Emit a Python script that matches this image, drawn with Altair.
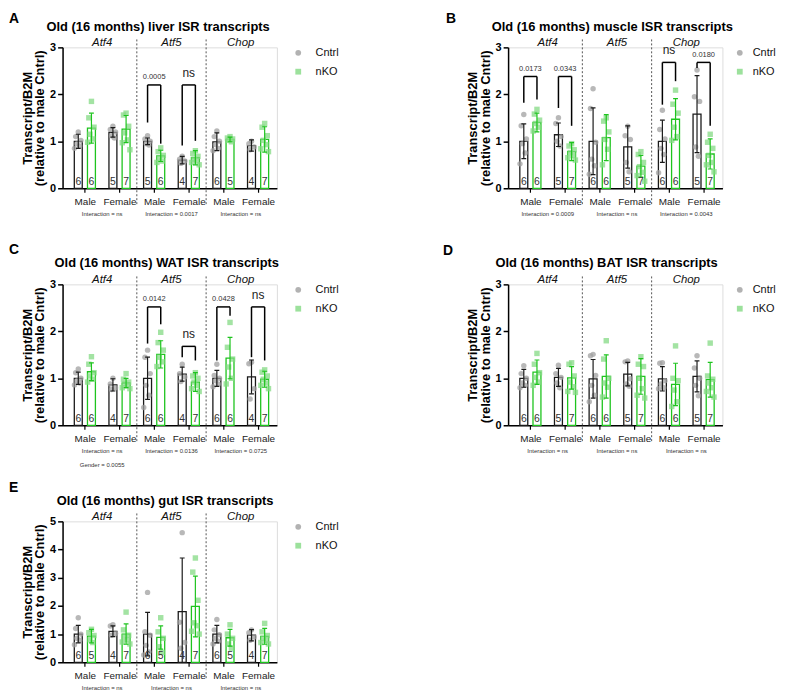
import altair as alt
import pandas as pd

GENES = ["Atf4", "Atf5", "Chop"]
SEXES = ["Male", "Female"]
GENOS = ["Cntrl", "nKO"]
# order of groups: gene -> sex -> genotype (Cntrl, nKO)

# ---------------- A: liver ----------------
liver_mean = [1.00, 1.28, 1.19, 1.26, 1.00, 0.69, 0.60, 0.65, 0.99, 1.04, 0.91, 1.04]
liver_sd = [0.15, 0.32, 0.10, 0.29, 0.07, 0.12, 0.08, 0.15, 0.19, 0.05, 0.12, 0.27]
liver_n = [6, 6, 5, 7, 5, 6, 4, 7, 6, 5, 4, 7]
liver_pts = [
    [1.20, 1.10, 1.02, 0.95, 0.90, 0.85],
    [1.85, 1.50, 1.30, 1.15, 1.05, 0.98],
    [1.32, 1.25, 1.20, 1.12, 1.07],
    [1.60, 1.56, 1.32, 1.18, 1.03, 0.97, 0.82],
    [1.12, 1.05, 1.00, 0.95, 0.92],
    [0.86, 0.78, 0.70, 0.64, 0.58, 0.55],
    [0.68, 0.62, 0.58, 0.53],
    [0.80, 0.74, 0.68, 0.62, 0.58, 0.55, 0.50],
    [1.22, 1.10, 1.00, 0.93, 0.85, 0.80],
    [1.10, 1.07, 1.05, 1.02, 0.99],
    [1.00, 0.95, 0.88, 0.82],
    [1.38, 1.30, 1.12, 1.02, 0.93, 0.84, 0.78],
]
liver_brackets = [("Atf5", "Male", "0.0005", 2.2, 1.40, 0.95),
                  ("Atf5", "Female", "ns", 2.2, 0.91, 1.01)]
liver_stats = ["Interaction = ns", "Interaction = 0.0017", "Interaction = ns"]

# ---------------- B: muscle ----------------
muscle_mean = [1.00, 1.40, 1.14, 0.78, 1.00, 1.08, 0.88, 0.47, 1.00, 1.47, 1.58, 0.73]
muscle_sd = [0.37, 0.20, 0.25, 0.19, 0.71, 0.49, 0.45, 0.23, 0.45, 0.44, 0.82, 0.32]
muscle_n = [6, 6, 5, 7, 6, 6, 5, 7, 6, 6, 5, 7]
muscle_pts = [
    [1.57, 1.33, 1.05, 0.95, 0.75, 0.52],
    [1.68, 1.58, 1.45, 1.38, 1.30, 1.22],
    [1.50, 1.38, 1.10, 1.00, 0.90],
    [0.95, 0.90, 0.82, 0.76, 0.70, 0.65, 0.60],
    [2.12, 1.70, 0.98, 0.62, 0.48, 0.30],
    [1.50, 1.43, 1.20, 1.04, 0.83, 0.50],
    [1.32, 1.12, 1.04, 0.55, 0.35],
    [0.78, 0.72, 0.55, 0.46, 0.34, 0.27, 0.15],
    [1.66, 1.25, 1.05, 0.85, 0.72, 0.33],
    [2.09, 1.79, 1.60, 1.30, 1.10, 1.02],
    [2.52, 1.95, 1.85, 0.88, 0.68],
    [1.15, 0.98, 0.85, 0.70, 0.55, 0.50, 0.35],
]
muscle_brackets = [("Atf4", "Male", "0.0173", 2.38, 1.82, 1.89),
                   ("Atf4", "Female", "0.0343", 2.38, 1.71, 1.33),
                   ("Chop", "Male", "ns", 2.68, 1.78, 2.28),
                   ("Chop", "Female", "0.0180", 2.68, 2.56, 1.33)]
muscle_stats = ["Interaction = 0.0009", "Interaction = ns", "Interaction = 0.0043"]

# ---------------- C: WAT ----------------
wat_mean = [1.00, 1.14, 0.86, 0.90, 1.00, 1.51, 1.09, 0.92, 1.00, 1.43, 1.03, 0.98]
wat_sd = [0.13, 0.19, 0.13, 0.10, 0.45, 0.29, 0.15, 0.20, 0.17, 0.44, 0.36, 0.17]
wat_n = [6, 6, 4, 7, 6, 6, 4, 7, 6, 6, 4, 7]
wat_pts = [
    [1.20, 1.12, 1.00, 0.95, 0.90, 0.86],
    [1.46, 1.30, 1.12, 1.05, 0.98, 0.92],
    [1.00, 0.88, 0.80, 0.76],
    [1.10, 0.98, 0.92, 0.88, 0.84, 0.80, 0.78],
    [1.60, 1.45, 1.10, 0.85, 0.64, 0.38],
    [1.98, 1.76, 1.60, 1.45, 1.35, 1.25],
    [1.30, 1.10, 1.03, 0.93],
    [1.12, 1.05, 1.00, 0.92, 0.85, 0.78, 0.72],
    [1.30, 1.06, 1.00, 0.95, 0.88, 0.82],
    [2.19, 1.66, 1.41, 1.24, 1.00, 0.88],
    [1.34, 1.31, 0.78, 0.56],
    [1.18, 1.13, 1.05, 0.98, 0.90, 0.85, 0.78],
]
wat_brackets = [("Atf5", "Male", "0.0142", 2.52, 1.74, 2.15),
                ("Atf5", "Female", "ns", 1.68, 1.45, 1.38),
                ("Chop", "Male", "0.0428", 2.52, 1.38, 2.33),
                ("Chop", "Female", "ns", 2.52, 1.45, 1.38)]
wat_stats = ["Interaction = ns", "Interaction = 0.0136", "Interaction = 0.0725"]
wat_extra = "Gender = 0.0055"

# ---------------- D: BAT ----------------
bat_mean = [1.00, 1.13, 1.02, 1.01, 0.99, 1.04, 1.09, 1.04, 0.99, 0.87, 1.04, 0.97]
bat_sd = [0.19, 0.26, 0.19, 0.24, 0.41, 0.46, 0.25, 0.38, 0.26, 0.45, 0.33, 0.37]
bat_n = [6, 6, 5, 7, 6, 6, 5, 7, 6, 6, 5, 7]
bat_pts = [
    [1.27, 1.10, 1.00, 0.90, 0.85, 0.80],
    [1.53, 1.30, 1.12, 1.02, 0.92, 0.85],
    [1.28, 1.10, 1.02, 0.90, 0.80],
    [1.33, 1.30, 1.05, 0.92, 0.82, 0.72, 0.70],
    [1.51, 1.48, 1.06, 0.85, 0.64, 0.50],
    [1.80, 1.41, 1.00, 0.90, 0.81, 0.60],
    [1.37, 1.35, 0.99, 0.88, 0.83],
    [1.46, 1.30, 1.25, 1.00, 0.78, 0.64, 0.58],
    [1.33, 1.32, 0.95, 0.88, 0.80, 0.78],
    [1.69, 1.00, 0.95, 0.75, 0.50, 0.40],
    [1.48, 1.22, 1.00, 0.85, 0.63],
    [1.75, 1.05, 0.98, 0.90, 0.80, 0.72, 0.60],
]
bat_brackets = []
bat_stats = ["Interaction = ns", "Interaction = ns", "Interaction = ns"]

# ---------------- E: gut ----------------
gut_mean = [1.00, 0.93, 1.10, 1.00, 1.00, 0.88, 1.80, 1.98, 1.00, 0.87, 0.96, 0.92]
gut_sd = [0.31, 0.24, 0.19, 0.36, 0.77, 0.41, 1.90, 1.08, 0.31, 0.30, 0.20, 0.28]
gut_n = [6, 5, 4, 7, 6, 5, 4, 7, 6, 5, 4, 7]
gut_pts = [
    [1.58, 1.20, 1.00, 0.85, 0.78, 0.62],
    [1.17, 1.05, 0.95, 0.80, 0.70],
    [1.33, 1.29, 1.02, 0.96],
    [1.78, 1.15, 0.96, 0.90, 0.80, 0.72, 0.65],
    [2.48, 1.08, 0.96, 0.60, 0.37, 0.26],
    [1.58, 1.08, 0.85, 0.55, 0.35],
    [4.60, 1.42, 0.70, 0.50],
    [3.70, 3.20, 2.20, 1.40, 1.30, 1.10, 1.00],
    [1.52, 1.15, 0.98, 0.85, 0.75, 0.65],
    [1.33, 1.00, 0.85, 0.65, 0.50],
    [1.15, 1.05, 0.90, 0.78],
    [1.38, 1.08, 0.95, 0.85, 0.78, 0.70, 0.65],
]
gut_brackets = []
gut_stats = ["Interaction = ns", "Interaction = ns", "Interaction = ns"]

# ---------------- layout / style ----------------
W, H = 216, 142
XDOM = [-0.5, 5.4]
OFF = 0.19
CAP = 0.07
JIT = [0.0, -0.075, 0.075, -0.04, 0.04, -0.11, 0.11]
FONT = "Liberation Sans"
LINE_COLORS = {"Cntrl": "#1a1a1a", "nKO": "#1ec41e"}

xscale = alt.Scale(domain=XDOM, nice=False, zero=False)
xaxis = alt.Axis(values=[0, 1, 2, 3, 4, 5],
                 labelExpr="datum.value % 2 == 0 ? 'Male' : 'Female'",
                 title=None, grid=False, tickSize=4, tickWidth=1.2, tickColor="black",
                 domainColor="black", domainWidth=1.5, labelFontSize=10, labelColor="#222",
                 labelPadding=4, labelFlush=False, labelOverlap=False, labelFont=FONT)


def X(f):
    return alt.X(f, type="quantitative", scale=xscale, axis=xaxis)


def make_panel(letter, lxy, title, txy, means, sds, ns, pts, brackets, stats, ymax,
               extra=None, leg_x=232, leg_off=12):
    yscale = alt.Scale(domain=[0, ymax], nice=False, zero=True)
    yaxis = alt.Axis(values=list(range(ymax + 1)), format="d",
                     title=["Transcript/B2M", "(relative to male Cntrl)"],
                     titleFontSize=13, titleFontWeight="bold", titleColor="black",
                     titlePadding=3, titleLineHeight=12.5, titleFont=FONT,
                     labelFontSize=11, labelFontWeight="bold", labelColor="black",
                     labelPadding=2, labelFont=FONT, tickSize=5, tickWidth=1.5,
                     tickColor="black", domainColor="black", domainWidth=1.5, grid=False)

    def Y(f):
        return alt.Y(f, type="quantitative", scale=yscale, axis=yaxis)

    rows, prows = [], []
    k = 0
    for gi, g in enumerate(GENES):
        for si, s in enumerate(SEXES):
            for ki, geno in enumerate(GENOS):
                slot = gi * 2 + si
                bx = slot + (OFF if ki else -OFF)
                m, sd = means[k], sds[k]
                rows.append(dict(x=bx, line=geno, mean=m, lo=m - sd, hi=m + sd,
                                 n=str(ns[k]), cl=bx - CAP, cr=bx + CAP))
                for j, v in enumerate(pts[k]):
                    prows.append(dict(x=bx + JIT[j % len(JIT)], v=v, geno=geno))
                k += 1
    bars = pd.DataFrame(rows)
    pdf = pd.DataFrame(prows)

    leg = alt.Legend(orient="none", legendX=leg_x, legendY=0, padding=0, title=None, labelFontSize=11,
                     labelFont=FONT, labelColor="#111", symbolSize=34, labelOffset=leg_off,
                     rowPadding=6, symbolOpacity=0.8)

    layers = []
    div = pd.DataFrame({"dx": [1.5, 3.5]})
    layers.append(alt.Chart(div).mark_rule(strokeDash=[2, 2], color="#555", strokeWidth=1).encode(
        x=X("dx"), y=alt.value(-8), y2=alt.value(H + 17)))
    for geno in GENOS:
        sub = bars[bars["line"] == geno]
        layers.append(alt.Chart(sub).mark_bar(size=8, fill="white", stroke=LINE_COLORS[geno],
                                              strokeWidth=1.3, orient="vertical").encode(
            x=X("x"), y=Y("mean")))
    layers.append(alt.Chart(pdf).mark_point(filled=True, size=30, opacity=0.75).encode(
        x=X("x"), y=Y("v"),
        color=alt.Color("geno:N", scale=alt.Scale(domain=GENOS, range=["#a0a0a0", "#84da84"]), legend=leg),
        shape=alt.Shape("geno:N", scale=alt.Scale(domain=GENOS, range=["circle", "square"]), legend=leg)))
    for geno in GENOS:
        sub = bars[bars["line"] == geno]
        c = LINE_COLORS[geno]
        layers.append(alt.Chart(sub).mark_rule(strokeWidth=1.2, clip=True, color=c).encode(
            x=X("x"), y=Y("lo"), y2=alt.Y2("hi")))
        layers.append(alt.Chart(sub).mark_rule(strokeWidth=1.2, clip=True, color=c).encode(
            x=X("cl"), x2=alt.X2("cr"), y=Y("hi")))
        layers.append(alt.Chart(sub).mark_rule(strokeWidth=1.2, clip=True, color=c).encode(
            x=X("cl"), x2=alt.X2("cr"), y=Y("lo")))
    layers.append(alt.Chart(bars).mark_text(fontSize=10.5, baseline="alphabetic", dy=-3,
                                            color="#333", font=FONT).encode(
        x=X("x"), y=alt.value(H), text="n:N"))

    if brackets:
        segs, labs = [], []
        for g, s, lab, top, lb, rb in brackets:
            slot = GENES.index(g) * 2 + SEXES.index(s)
            xl, xr = slot - OFF, slot + OFF
            segs += [dict(x=xl, x2=xr, y=top, y2=top),
                     dict(x=xl, x2=xl, y=top, y2=lb),
                     dict(x=xr, x2=xr, y=top, y2=rb)]
            labs.append(dict(xm=slot, top=top, label=lab, ns=(lab == "ns")))
        sdf = pd.DataFrame(segs)
        ldf = pd.DataFrame(labs)
        layers.append(alt.Chart(sdf).mark_rule(strokeWidth=1.5, color="black").encode(
            x=X("x"), x2=alt.X2("x2"), y=Y("y"), y2=alt.Y2("y2")))
        pl = ldf[~ldf["ns"]]
        nl = ldf[ldf["ns"]]
        if len(pl):
            layers.append(alt.Chart(pl).mark_text(fontSize=7.5, baseline="alphabetic", dy=-5.5,
                                                  color="#333", font=FONT).encode(
                x=X("xm"), y=Y("top"), text="label:N"))
        if len(nl):
            layers.append(alt.Chart(nl).mark_text(fontSize=12, baseline="alphabetic", dy=-8,
                                                  color="#222", font=FONT).encode(
                x=X("xm"), y=Y("top"), text="label:N"))

    gdf = pd.DataFrame({"gx": [0.5, 2.5, 4.5], "gene": GENES, "stat": stats})
    layers.append(alt.Chart(gdf).mark_text(fontSize=11.5, fontStyle="italic", baseline="alphabetic",
                                           color="#111", font=FONT).encode(
        x=X("gx"), y=alt.value(-1), text="gene:N"))
    layers.append(alt.Chart(gdf).mark_text(fontSize=6, baseline="middle", color="#333", font=FONT).encode(
        x=X("gx"), y=alt.value(H + 26), text="stat:N"))
    if extra:
        edf = pd.DataFrame({"gx": [0.5], "t": [extra]})
        layers.append(alt.Chart(edf).mark_text(fontSize=6, baseline="middle", color="#333", font=FONT).encode(
            x=X("gx"), y=alt.value(H + 40), text="t:N"))

    one = pd.DataFrame({"t": [title], "l": [letter]})
    layers.append(alt.Chart(one).mark_text(fontSize=13, fontWeight="bold", baseline="middle",
                                           align="center", color="black", font=FONT).encode(
        x=alt.value(txy[0]), y=alt.value(txy[1]), text="t:N"))
    layers.append(alt.Chart(one).mark_text(fontSize=14, fontWeight="bold", baseline="top",
                                           align="left", color="black", font=FONT).encode(
        x=alt.value(lxy[0]), y=alt.value(lxy[1]), text="l:N"))

    return alt.layer(*layers).properties(width=W, height=H)


pA = make_panel("A", (-54, -36), "Old (16 months) liver ISR transcripts", (96.3, -21),
                liver_mean, liver_sd, liver_n, liver_pts, liver_brackets, liver_stats, 3)
pB = make_panel("B", (-62.7, -36), "Old (16 months) muscle ISR transcripts", (105, -21),
                muscle_mean, muscle_sd, muscle_n, muscle_pts, muscle_brackets, muscle_stats, 3,
                leg_x=228, leg_off=7.5)
pC = make_panel("C", (-54, -41.8), "Old (16 months) WAT ISR transcripts", (105, -22),
                wat_mean, wat_sd, wat_n, wat_pts, wat_brackets, wat_stats, 3, extra=wat_extra)
pD = make_panel("D", (-65.7, -40.5), "Old (16 months) BAT ISR transcripts", (99.3, -22),
                bat_mean, bat_sd, bat_n, bat_pts, bat_brackets, bat_stats, 3,
                leg_x=228, leg_off=7.5)
pE = make_panel("E", (-54, -40.7), "Old (16 months) gut ISR transcripts", (103.3, -21),
                gut_mean, gut_sd, gut_n, gut_pts, gut_brackets, gut_stats, 5)

chart = alt.concat(pA, pB, pC, pD, pE, columns=2,
                   spacing={"row": 96.85, "column": 233}, bounds="flush").resolve_scale(
    x="independent", y="independent", color="independent", shape="independent"
).resolve_legend(color="independent", shape="independent").resolve_axis(
    x="independent", y="independent").properties(padding=0).configure_view(stroke=None).configure(
    font=FONT)

chart.save("out.html", embed_options={"renderer": "svg", "actions": False})
